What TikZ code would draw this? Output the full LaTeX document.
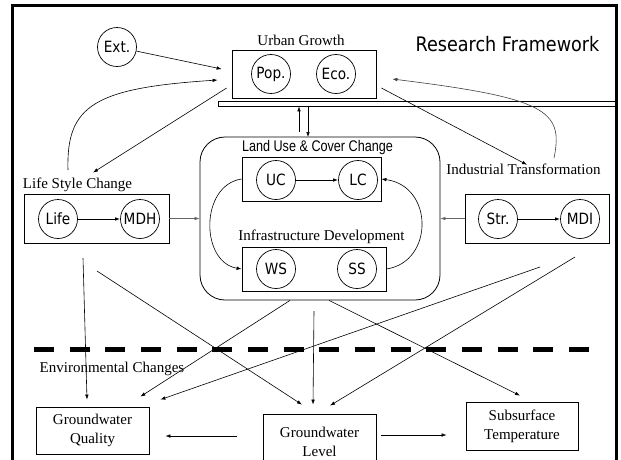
\documentclass[tikz,border=0pt]{standalone}
\usepackage{fontspec}
\setmainfont{Liberation Serif}
\newfontfamily\tahoma[FakeStretch=0.88]{DejaVu Sans}
\newfontfamily\narrowsans[FakeStretch=0.82]{Liberation Sans}
\usetikzlibrary{arrows.meta}

\tikzset{
	circ/.style={circle, draw, line width=0.7pt, minimum size=39pt, inner sep=0pt,
		font=\tahoma\fontsize{15.5}{17}\selectfont},
	box/.style={rectangle, draw, line width=0.8pt, inner sep=0pt},
	txt/.style={font=\fontsize{15}{19}\selectfont, align=center, inner sep=0pt},
	arr/.style={-{Latex[length=5pt,width=3.6pt]}, line width=0.6pt},
}

\begin{document}
\begin{tikzpicture}[x=1pt,y=-1pt]

\useasboundingbox (0,0) rectangle (621,459);
\clip (0,0) rectangle (621,459);

% frame, open at the bottom
\draw[line width=3pt] (12,470) -- (12,5) -- (616,5) -- (616,470);

% group boxes
\foreach \n\x\y\w\h in{
	urban/304/74/144/48
	,luccbox/311.5/179/139/44
	,infra/314/269/144/44
	,lifebox/96.5/218.5/145/49
	,indbox/537/218.5/144/49
}{
	\node[box, minimum width=\w, minimum height=\h] (\n) at (\x,\y) {};
}
\node[box, rounded corners=25pt, minimum width=240, minimum height=163] (lucc) at (320,218.5) {};
\node[box, line width=0.7pt, minimum width=398, minimum height=5] (bar) at (417,103.5) {};

% factors
\foreach \n\x\y\t in{
	ext/117/47/Ext.
	,pop/271/74/Pop.
	,eco/336/74/Eco.
	,uc/276/180/UC
	,lc/358/180/LC
	,ws/276/269/WS
	,ss/357/269/SS
	,life/58/219/Life
	,mdh/140/219/MDH
	,str/498/219/Str.
	,mdi/580/219/MDI
}{
	\node[circ] (\n) at (\x,\y) {\t};
}

% titles
\node[txt, anchor=base] (urbantitle) at (301,45) {Urban Growth};
\node[txt, anchor=base, font=\narrowsans\fontsize{15.4}{18}\selectfont] (lucctitle) at (317.5,151) {Land Use \& Cover Change};
\node[txt, anchor=base] (infratitle) at (321.5,240.5) {Infrastructure Development};
\node[txt, anchor=base] (lifetitle) at (77.5,188) {Life Style Change};
\node[txt, anchor=base] (indtitle) at (523.5,174.5) {Industrial Transformation};
\node[txt, anchor=base] (envtitle) at (112,372) {Environmental Changes};
\node[anchor=base, inner sep=0pt, font=\tahoma\fontsize{20}{24}\selectfont] (heading) at (507.5,51) {Research Framework};

% impacts
\node[box, txt, minimum width=113, minimum height=47] (gq) at (92.5,430.5) {Groundwater\\Quality};
\node[box, txt, minimum width=113, minimum height=55] (gl) at (319.5,441.5) {Groundwater\\Level};
\node[box, txt, minimum width=112, minimum height=48] (st) at (522,426) {Subsurface\\Temperature};

\draw[line width=5pt, dash pattern=on 20pt off 15.67pt] (34,349) -- (590,349);

% free ends
\coordinate (lifeup) at (68,170);
\coordinate (indup) at (554,158);
\coordinate (upfoot) at (299,132);
\coordinate (downtop) at (308,137);
\coordinate (l1) at (83,258);
\coordinate (l2) at (97,271);
\coordinate (c4) at (314,311);
\coordinate (r1) at (540,267);
\coordinate (r2) at (575,257);

% urban growth links
\draw[arr] (ext) -- ([shift={(-10,-5)}]urban.west);
\draw[arr] (lifeup) .. controls (66,105) and (95,88) .. ([shift={(-14,6)}]urban.west);
\draw[arr] ([shift={(-5,14)}]urban.west) -- ([shift={(15.5,-4.7)}]lifetitle.north);
\draw[arr] ([shift={(5,14)}]urban.east) -- ([shift={(3.5,1)}]indtitle.north);
\draw[arr, black!75] (indup) .. controls (564,110) and (545,98) .. ([shift={(16,5)}]urban.east);
\draw[arr] (upfoot) -- (upfoot |- bar.south);
\draw[arr] (downtop |- bar.south) -- (downtop);

% inside the groups
\draw[arr, line width=0.9pt] (life) -- (mdh);
\draw[arr, line width=0.9pt] (uc) -- (lc);
\draw[arr, line width=0.9pt] (str) -- (mdi);
\draw[arr, black!60] (lifebox.east) -- (lucc.west);
\draw[arr, black!60] (indbox.west) -- (lucc.east);
\draw[arr] (luccbox.west) .. controls (200,185) and (200,262) .. (infra.west);
\draw[arr] (infra.east) .. controls (434,262) and (434,186) .. (luccbox.east);

% environmental changes
\draw[arr] (l1) -- ([shift={(-5.5,-7)}]gq.north);
\draw[arr] (l2) -- ([shift={(-17.5,-9)}]gl.north);
\draw[arr] ([shift={(-30,0)}]lucc.south) -- ([shift={(-9,-10)}]gq.north east);
\draw[arr] (c4) -- ([shift={(-6.5,-9)}]gl.north);
\draw[arr] ([shift={(9,0)}]lucc.south) -- ([shift={(-2,-6)}]st.north);
\draw[arr] (r1) -- ([shift={(11,-7)}]gq.north east);
\draw[arr] (r2) -- ([shift={(10.5,-8)}]gl.north);
\draw[arr] ([shift={(-26,-5.5)}]gl.west) -- ([shift={(16,5.5)}]gq.east);
\draw[arr] ([shift={(5,-6.5)}]gl.east) -- ([shift={(-19,9)}]st.west);

\end{tikzpicture}
\end{document}
